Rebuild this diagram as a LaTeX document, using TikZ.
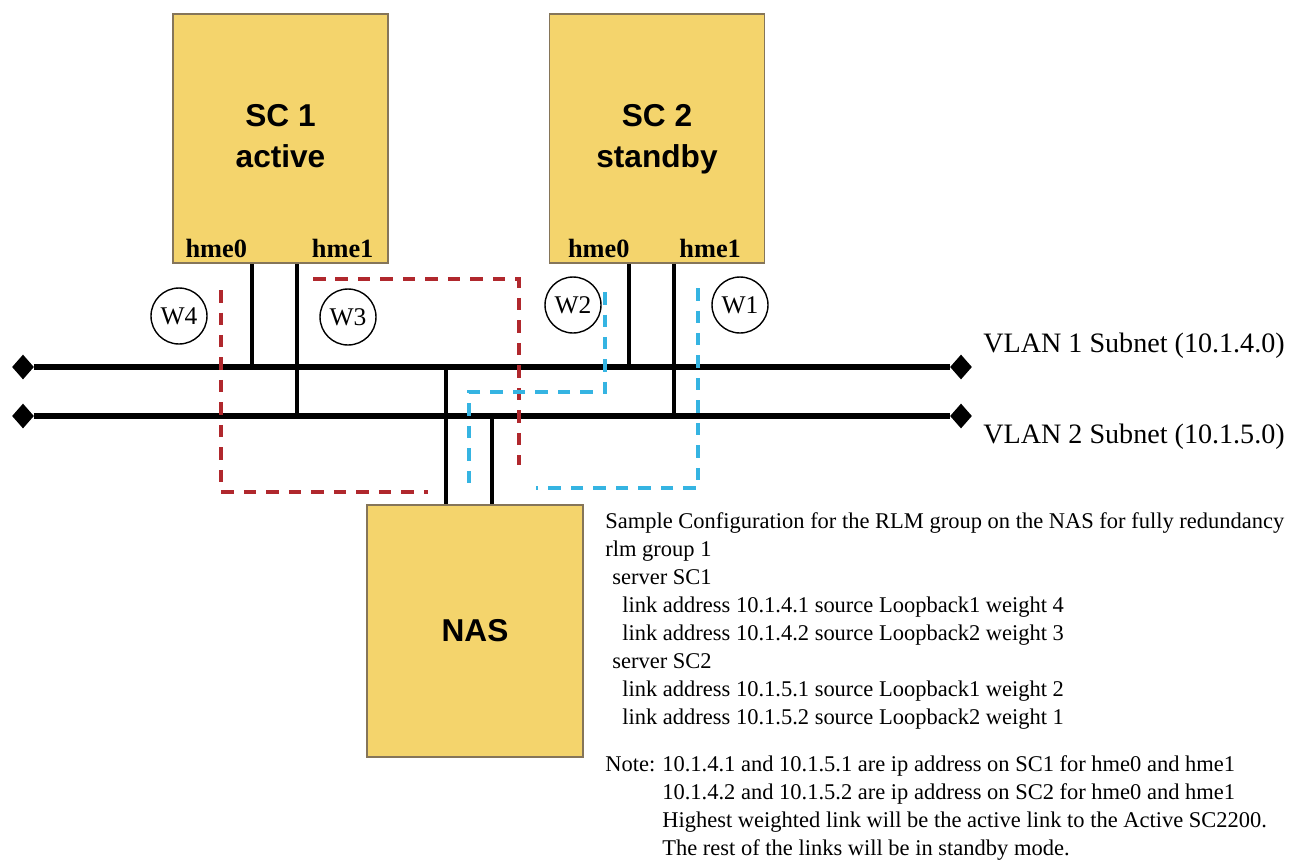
\documentclass[tikz,border=0pt]{standalone}
\usepackage{fontspec}
\setmainfont{Liberation Serif}
\newfontfamily\boxfont{Liberation Sans}
\usetikzlibrary{arrows.meta, positioning, shapes.geometric, calc}
\definecolor{cyellow}{HTML}{F4D46C}
\definecolor{cframe}{HTML}{857559}
\definecolor{cred}{HTML}{B0282D}
\definecolor{cblue}{HTML}{35B4E2}
\tikzset{
  unitbox/.style={draw=cframe, fill=cyellow, line width=0.9pt, minimum width=4.3cm, minimum height=4.98cm, align=center, font=\boxfont\bfseries\fontsize{18}{23.2}\selectfont},
  port/.style={font=\bfseries\fontsize{15}{15}\selectfont, inner sep=0pt},
  wgt/.style={circle, draw, line width=0.8pt, minimum size=1.12cm, inner sep=0pt, font=\fontsize{14.5}{14.5}\selectfont},
  bus/.style={line width=3.4pt},
  link/.style={line width=2.2pt},
  busend/.style={diamond, fill=black, inner sep=0pt, minimum width=0.44cm, minimum height=0.5cm},
  redroute/.style={draw=cred, line width=2.3pt, dash pattern=on 0.25cm off 0.2cm},
  blueroute/.style={draw=cblue, line width=2.3pt, dash pattern=on 0.25cm off 0.2cm},
  vlan/.style={anchor=west, inner sep=0pt, font=\fontsize{16}{16}\selectfont},
  cfg/.style={anchor=base west, inner sep=0pt, font=\fontsize{12.8}{15}\selectfont},
}

\begin{document}
\begin{tikzpicture}[x=0.02cm, y=-0.02cm]
  \useasboundingbox (0,0) rectangle (1295,866);
  \node[unitbox] (sc1) at (280.5,138.5) {\strut SC 1\\\strut active};
  \node[unitbox] (sc2) at (657,138.5) {\strut SC 2\\\strut standby};
  \node[unitbox, minimum width=4.32cm, minimum height=5.04cm] (nas) at (475,631) {NAS};
  \foreach \v/\y in {1/367, 2/416} {
    \node[busend] (v\v l) at (23,\y) {};
    \node[busend] (v\v r) at (961,\y) {};
    \draw[bus] (v\v l) -- (v\v r);
  }
  \node[vlan] (lan1) at (983,346) {VLAN 1 Subnet (10.1.4.0)};
  \node[vlan] (lan2) at (983,437) {VLAN 2 Subnet (10.1.5.0)};
  \foreach \u/\dl/\dr in {sc1/13/15, sc2/19/24} {
    \node[port, anchor=south west] (\u h0) at ($(\u.south west)+(\dl,-6)$) {hme0};
    \node[port, anchor=south east] (\u h1) at ($(\u.south east)+(-\dr,-6)$) {hme1};
    \path (\u.south west) ++(80,0) coordinate (\u a) ++(45,0) coordinate (\u b);
    \draw[link] (\u a) -- (\u a |- v1l);
    \draw[link] (\u b) -- (\u b |- v2l);
  }
  \path (nas.north west) ++(80,0) coordinate (nas a) ++(46,0) coordinate (nas b);
  \draw[link] (nas a) -- (nas a |- v1l);
  \draw[link] (nas b) -- (nas b |- v2l);
  \node[wgt] (w4) at (179,316) {W4};
  \node[wgt] (w3) at (348,317) {W3};
  \node[wgt] (w2) at (573,305) {W2};
  \node[wgt] (w1) at (740,305) {W1};
  \draw[redroute] (221,290) -- (221,492) -- (428,492);
  \draw[redroute] (313,279) -- (519,279) -- (519,465);
  \draw[blueroute] (605,292) -- (605,392) -- (469,392) -- (469,492);
  \draw[blueroute] (698,288) -- (698,488) -- (536,488);
  \foreach \x/\t [count=\i] in {605/Sample Configuration for the RLM group on the NAS for fully redundancy, 605/rlm group 1, 612/server SC1, 622/link address 10.1.4.1 source Loopback1 weight 4, 622/link address 10.1.4.2 source Loopback2 weight 3, 612/server SC2, 622/link address 10.1.5.1 source Loopback1 weight 2, 622/link address 10.1.5.2 source Loopback2 weight 1}
    \node[cfg] (cfg\i) at (\x,500+28*\i) {\t};
  \node[cfg] (note) at (605,771) {Note:};
  \foreach \t [count=\i] in {10.1.4.1 and 10.1.5.1 are ip address on SC1 for hme0 and hme1, 10.1.4.2 and 10.1.5.2 are ip address on SC2 for hme0 and hme1, Highest weighted link will be the active link to the Active SC2200., The rest of the links will be in standby mode.}
    \node[cfg] (note\i) at (662,743+28*\i) {\t};
\end{tikzpicture}
\end{document}
